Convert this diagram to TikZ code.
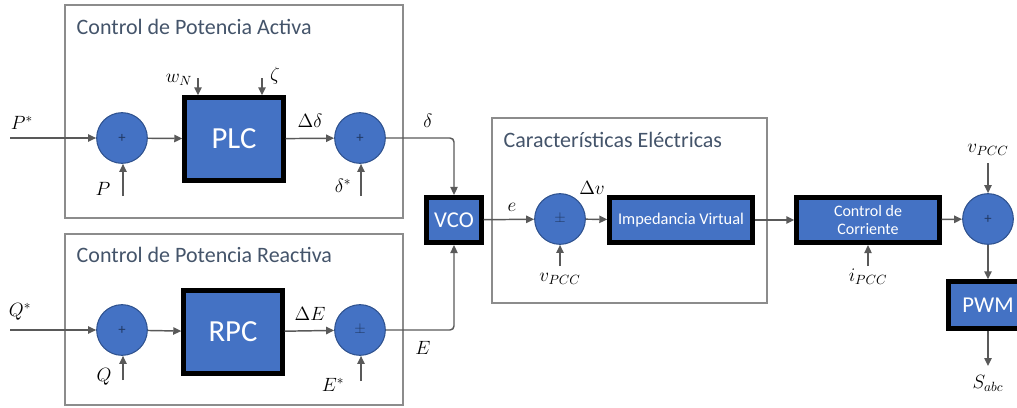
\documentclass[tikz,border=0pt]{standalone}
\usepackage{fontspec}
\setmainfont{Carlito}
\usetikzlibrary{arrows.meta,positioning,calc}
\definecolor{blockblue}{HTML}{4472C4}
\definecolor{circedge}{HTML}{2F528F}
\definecolor{framegray}{HTML}{8C8C8C}
\definecolor{titleblue}{HTML}{44546A}
\definecolor{arrgray}{HTML}{595959}
\tikzset{
  blockbox/.style={draw=black, line width=3.6pt, fill=blockblue, text=white,
    align=center, inner sep=2pt},
  sumnode/.style={circle, draw=circedge, line width=0.8pt, fill=blockblue,
    minimum size=38pt, inner sep=0pt, text=circedge!70!black, font=\fontsize{11}{11}\selectfont},
  framebox/.style={draw=framegray, line width=0.8pt},
  framelabel/.style={anchor=west, text=titleblue, font=\fontsize{16.5}{18}\selectfont},
  arr/.style={-{Triangle[length=6pt,width=5.5pt]}, line width=1.1pt, draw=arrgray},
  siglabel/.style={font=\fontsize{14}{16}\selectfont, inner sep=0pt}
}

\begin{document}
\begin{tikzpicture}[x=0.75pt, y=-0.75pt]
  \useasboundingbox (0,0) rectangle (1017,407);
  % frames
  \draw[framebox] (65,5) rectangle (403,218);
  \draw[framebox] (65,234) rectangle (403,405);
  \draw[framebox] (492,118) rectangle (767,303);
  \node[framelabel] (tact) at (72,27) {Control de Potencia Activa};
  \node[framelabel] (treact) at (72,255) {Control de Potencia Reactiva};
  \node[framelabel] (telec) at (499,140) {Características Eléctricas};

  % active power loop
  \node[sumnode] (sp1) at (122,138) {+};
  \node[blockbox, minimum width=74pt, minimum height=62pt,
        font=\fontsize{23}{25}\selectfont] (plc) at (234,139) {PLC};
  \node[sumnode] (sp2) at (360,138) {+};
  % reactive power loop
  \node[sumnode] (sq1) at (122,330) {+};
  \node[blockbox, minimum width=74pt, minimum height=62pt,
        font=\fontsize{23}{25}\selectfont] (rpc) at (233,332) {RPC};
  \node[sumnode] (sq2) at (360,330) {$\pm$};
  % forward path
  \node[blockbox, minimum width=41pt, minimum height=34pt,
        font=\fontsize{17}{19}\selectfont] (vco) at (454,220) {VCO};
  \node[sumnode] (sv) at (560,219) {$\pm$};
  \node[blockbox, minimum width=107pt, minimum height=34pt,
        font=\fontsize{12.3}{14}\selectfont] (imp) at (681,220) {Impedancia Virtual};
  \node[blockbox, minimum width=107pt, minimum height=34pt,
        font=\fontsize{12}{13}\selectfont] (cc) at (868,220) {Control de\\Corriente};
  \node[sumnode] (so) at (988,219) {+};
  \node[blockbox, minimum width=59pt, minimum height=35pt,
        font=\fontsize{17}{19}\selectfont] (pwm) at (988,305) {PWM};

  % free ends
  \coordinate (pin) at (10,138);
  \coordinate (qin) at (10,330);
  \coordinate (pfb) at (123,196);
  \coordinate (dref) at (361,196);
  \coordinate (wn) at (198,78);
  \coordinate (zt) at (262,78);
  \coordinate (qfb) at (123,380);
  \coordinate (eref) at (361,381);
  \coordinate (vpa) at (560,266);
  \coordinate (ipcc) at (868,266);
  \coordinate (vpb) at (988,163);
  \coordinate (sout) at (988,366);

  % connectors
  \draw[arr] (pin) -- (sp1);
  \draw[arr] (sp1) -- (plc);
  \draw[arr] (plc) -- (sp2);
  \draw[arr, rounded corners=3pt] (sp2.east) -| (vco.north);
  \draw[arr] (qin) -- (sq1);
  \draw[arr] (sq1) -- (rpc);
  \draw[arr] (rpc) -- (sq2);
  \draw[arr, rounded corners=3pt] (sq2.east) -| (vco.south);
  \draw[arr] (vco) -- (sv);
  \draw[arr] (sv) -- (imp);
  \draw[arr] (imp) -- (cc);
  \draw[arr] (cc) -- (so);
  \draw[arr] (so) -- (pwm);
  \draw[arr] (pwm) -- (sout);
  \draw[arr] (pfb) -- (pfb |- sp1.south);
  \draw[arr] (dref) -- (dref |- sp2.south);
  \draw[arr] (wn) -- (wn |- plc.north);
  \draw[arr] (zt) -- (zt |- plc.north);
  \draw[arr] (qfb) -- (qfb |- sq1.south);
  \draw[arr] (eref) -- (eref |- sq2.south);
  \draw[arr] (vpa) -- (sv.south);
  \draw[arr] (ipcc) -- (cc.south);
  \draw[arr] (vpb) -- (so.north);

  % signal labels
  \node[siglabel] (lpin) at (22,123) {$P^{*}$};
  \node[siglabel] (lpfb) at (103,189) {$P$};
  \node[siglabel] (lwn) at (179,80) {$w_N$};
  \node[siglabel] (lzt) at (275,76) {$\zeta$};
  \node[siglabel] (ldd) at (310,121) {$\Delta\delta$};
  \node[siglabel] (ldref) at (343,186) {$\delta^{*}$};
  \node[siglabel] (ld) at (428,121) {$\delta$};
  \node[siglabel] (lqin) at (20,312) {$Q^{*}$};
  \node[siglabel] (lqfb) at (104,377) {$Q$};
  \node[siglabel] (lde) at (310,314) {$\Delta E$};
  \node[siglabel] (leref) at (333,385) {$E^{*}$};
  \node[siglabel] (le) at (423,348) {$E$};
  \node[siglabel] (lev) at (512,207) {$e$};
  \node[siglabel] (ldv) at (592,188) {$\Delta v$};
  \node[siglabel] (lvpa) at (560,279) {$v_{PCC}$};
  \node[siglabel] (lipcc) at (868,277) {$i_{PCC}$};
  \node[siglabel] (lvpb) at (988,150) {$v_{PCC}$};
  \node[siglabel] (lsabc) at (988,383) {$S_{abc}$};
\end{tikzpicture}
\end{document}
